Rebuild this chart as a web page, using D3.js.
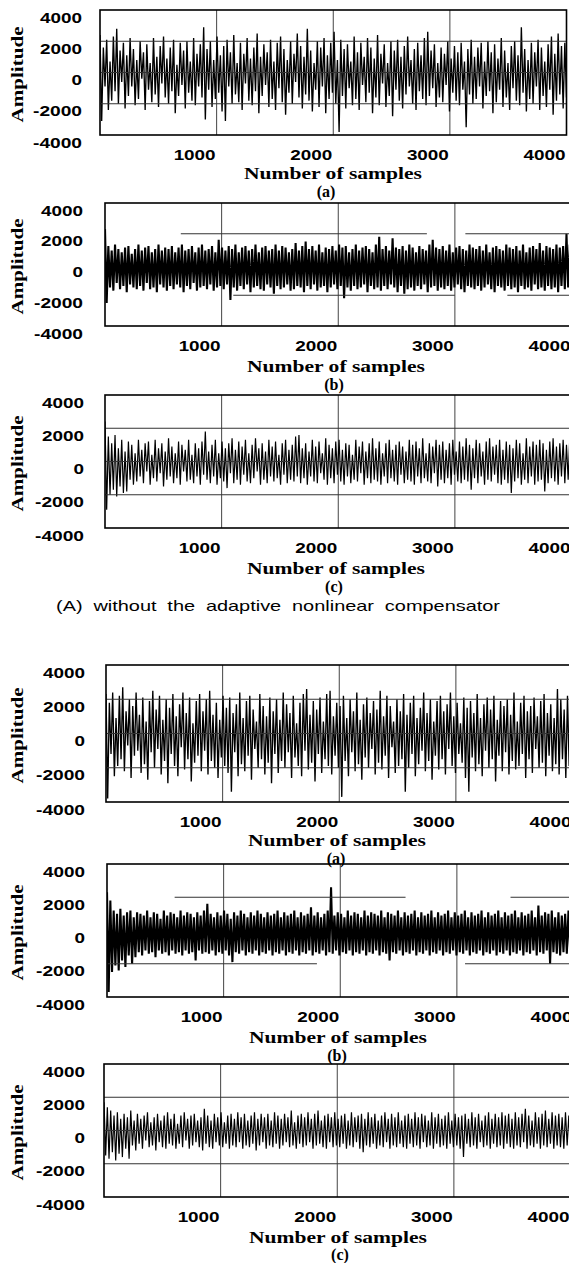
<!DOCTYPE html>
<html>
<head>
<meta charset="utf-8">
<script src="https://cdn.jsdelivr.net/npm/d3@7"></script>
<style>
  body { margin: 0; background: #fff; }
  svg { display: block; }
</style>
</head>
<body>
<svg id="fig" width="569" height="1263"></svg>
<script>
// axis values
var xTicks = [1000, 2000, 3000, 4000]
var yTicks = [4000, 2000, 0, -2000, -4000]
var gridX = [1000, 2000, 3000]
var gridY = [2000, 0, -2000]
var panelTags = ['(a)', '(b)', '(c)', '(a)', '(b)', '(c)']
var caption = '(A) without the adaptive nonlinear compensator'

// signal peaks (alternating up / down strokes, 280 per plot)
// (A) without compensator
var sigA1 = [
    2400, -3100, 1600, -900, 2100, -2400, 700, -1800, 2300, -1200, 2800, -2000, 1400, -600, 1900, -2300, 1100, -1500, 2200, -900,
    1500, -2100, 800, -1700, 2000, -400, 1300, -2400, 1800, -1100, 600, -1900, 2200, -1400, 1000, -2200, 1700, -700, 2300, -1600,
    900, -2000, 1600, -1200, 2100, -2600, 500, -1500, 1900, -800, 1400, -2300, 2000, -1300, 700, -1800, 2200, -2100, 1200, -900,
    1800, -1600, 2900, -3000, 1500, -1100, 2000, -2200, 800, -1700, 2300, -1300, 1100, -2500, 1700, -3100, 2100, -900, 1300, -2000,
    2400, -1400, 600, -1900, 1900, -2400, 1200, -700, 2200, -1800, 900, -2100, 1600, -1200, 2500, -2600, 1000, -1500, 1800, -800,
    1300, -2200, 2100, -1700, 700, -2400, 1900, -1000, 2300, -1900, 1500, -2700, 800, -1300, 2000, -2000, 1200, -600, 2500, -1600,
    1700, -2300, 1000, -1400, 2800, -1800, 1400, -2500, 600, -1100, 2000, -2200, 1600, -900, 2200, -2600, 1100, -1700, 1900, -1300,
    2600, -2000, 800, -3800, 2100, -1500, 1500, -2300, 1800, -1000, 700, -2100, 2300, -1700, 1300, -2400, 1900, -800, 1000, -1900,
    2200, -1300, 1600, -2600, 900, -1600, 2400, -2100, 1200, -700, 1800, -2200, 600, -1500, 2000, -2800, 1400, -1100, 2100, -1800,
    1000, -2300, 1700, -1400, 2300, -900, 800, -2000, 1500, -2400, 1900, -1200, 1100, -1700, 2200, -2100, 2600, -1500, 1400, -1000,
    1800, -2200, 600, -1600, 1600, -1900, 1200, -800, 2000, -2500, 900, -1300, 1700, -1800, 1300, -2100, 1900, -1100, 700, -3500,
    1500, -1400, 2100, -2000, 1000, -1700, 1600, -900, 1900, -2300, 700, -1500, 2000, -1200, 1300, -2600, 1800, -1900, 900, -1100,
    2200, -2200, 1400, -1600, 600, -2400, 1700, -1000, 2000, -1800, 1100, -2100, 2900, -1300, 1500, -2500, 800, -1700, 1900, -2000,
    1300, -900, 2100, -2400, 1600, -1500, 700, -2200, 1800, -1100, 2300, -2700, 1200, -1800, 2500, -1400, 1700, -2300, 1900, -1600]
var sigB1 = [
    2300, -2500, 1200, -1500, 900, -1700, 1300, -1200, 1000, -1600, 800, -1400, 1100, -1800, 1200, -1300, 700, -1500, 1000, -1600,
    1300, -1400, 900, -1700, 1100, -1200, 1200, -1600, 800, -1500, 1000, -1800, 1300, -1300, 900, -1500, 1100, -1700, 1000, -1400,
    1200, -1600, 800, -1300, 1100, -1500, 1300, -1800, 900, -1400, 1000, -1600, 1200, -1200, 800, -1700, 1100, -1500, 1300, -1400,
    900, -1600, 1000, -1300, 1200, -1700, 800, -1500, 1600, -1400, 1100, -1600, 900, -1300, 1200, -2300, 1000, -1500, 1300, -1700,
    800, -1400, 1100, -1600, 1200, -1300, 900, -1800, 1000, -1500, 1300, -1400, 800, -1600, 1100, -1700, 1200, -1300, 900, -1500,
    1000, -1900, 1300, -1400, 900, -1600, 1200, -1500, 1100, -1300, 800, -1700, 1000, -1600, 1400, -1400, 900, -1500, 1200, -1800,
    1500, -1400, 1000, -1600, 1200, -1300, 900, -1700, 1300, -1500, 800, -1400, 1100, -1800, 1000, -1500, 1200, -1300, 900, -1600,
    1300, -1400, 1100, -2200, 1200, -1500, 800, -1700, 1000, -1400, 1300, -1600, 900, -1500, 1100, -1300, 1200, -1800, 1000, -1400,
    800, -1600, 1300, -1500, 1800, -1700, 1000, -1400, 1200, -1600, 900, -1300, 1700, -1500, 1100, -1800, 1000, -1400, 1200, -1900,
    900, -1600, 1300, -1500, 1100, -1700, 800, -1400, 1200, -1600, 1000, -1300, 900, -1800, 1300, -1500, 1600, -1400, 1100, -1700,
    1000, -1500, 1200, -1600, 900, -1400, 1300, -1700, 800, -1500, 1100, -1300, 1200, -1600, 1000, -1800, 900, -1400, 1300, -1500,
    1100, -1600, 1000, -1400, 1200, -1700, 900, -1500, 1300, -1300, 800, -1600, 1100, -1800, 1200, -1400, 1000, -1500, 900, -1700,
    1300, -1400, 1100, -1600, 1000, -1500, 1200, -1800, 900, -1400, 1300, -1600, 800, -1500, 1100, -1700, 1200, -1300, 1000, -1600,
    1400, -1500, 900, -1700, 1200, -1400, 1100, -1600, 1000, -1500, 1300, -1800, 1100, -1400, 1200, -1600, 2000, -1500, 1300, -1600]
var sigC1 = [
    2400, -2900, 1500, -2000, 1100, -1700, 1600, -2100, 800, -1500, 1300, -1900, 600, -1800, 1200, -1100, 1000, -1400, 500, -1200,
    1300, -900, 700, -1300, 1100, -600, 1200, -1400, 400, -1000, 1300, -1200, 800, -700, 1100, -1500, 600, -1100, 1400, -900,
    900, -1300, 500, -1000, 1200, -1400, 1000, -600, 700, -1200, 1300, -1100, 400, -1300, 1100, -900, 800, -1400, 1200, -800,
    1800, -1100, 600, -1300, 1000, -900, 1300, -1400, 500, -1000, 1200, -1200, 800, -1600, 1100, -700, 1400, -1300, 700, -1100,
    1200, -1400, 900, -800, 1300, -1200, 500, -1300, 1000, -1000, 1400, -600, 800, -1400, 1100, -1100, 600, -1300, 1300, -900,
    900, -1200, 1200, -1000, 400, -1400, 1100, -800, 1300, -1300, 700, -1100, 1000, -1200, 1500, -900, 1600, -1300, 800, -1000,
    1100, -1400, 600, -900, 1300, -1200, 900, -1300, 1200, -700, 500, -1100, 1400, -1400, 1000, -1000, 800, -1300, 1200, -800,
    1300, -1200, 700, -1400, 1100, -900, 1000, -1300, 400, -1100, 1300, -1200, 900, -700, 1200, -1400, 600, -1000, 1100, -1300,
    1400, -1100, 800, -1200, 1200, -1400, 500, -900, 1100, -1300, 1300, -1000, 700, -1200, 1000, -1400, 1200, -800, 900, -1300,
    600, -1100, 1300, -1200, 1000, -1400, 1200, -900, 800, -1300, 1400, -1000, 500, -1200, 1100, -1300, 900, -700, 1300, -1500,
    1000, -1100, 1200, -1300, 700, -1000, 1100, -1400, 1300, -800, 600, -1200, 1200, -1300, 900, -1100, 1400, -1200, 1000, -1700,
    800, -1000, 1300, -1300, 1100, -900, 600, -1400, 1200, -1100, 1400, -1200, 900, -800, 1000, -1300, 1300, -1400, 700, -1100,
    1200, -1300, 1000, -1900, 800, -1200, 1300, -1000, 1100, -1400, 500, -1100, 1400, -1300, 900, -900, 1200, -1400, 1000, -1200,
    1300, -1100, 1100, -1800, 700, -1300, 1200, -1000, 1400, -1200, 900, -1400, 1100, -900, 1300, -1300, 1000, -1100, 1500, -1000]

// (B) with compensator
var sigA2 = [
    2300, -3800, 1800, -1200, 2400, -2500, 900, -1900, 2200, -1500, 2700, -2200, 1300, -700, 2000, -2600, 1600, -1300, 2400, -1000,
    1100, -2300, 2100, -1800, 700, -2700, 1900, -1100, 2500, -2000, 1400, -900, 2200, -2400, 800, -1600, 2000, -2900, 1500, -1200,
    2300, -1900, 1000, -2500, 1700, -800, 2400, -2100, 1200, -1500, 2100, -2800, 600, -1700, 1900, -1300, 2300, -2200, 1300, -1000,
    2000, -2400, 2500, -1600, 1100, -2000, 1800, -2600, 800, -1400, 2200, -1900, 1500, -2300, 2100, -3400, 1200, -1100, 1700, -2500,
    2400, -1800, 900, -2200, 1900, -1300, 2200, -2700, 1400, -900, 700, -2000, 2300, -1500, 1600, -2400, 1000, -1700, 2100, -2900,
    1300, -1200, 2000, -2300, 800, -1600, 2400, -2000, 1700, -1100, 1200, -2600, 2200, -1400, 600, -1900, 1800, -2500, 2300, -1000,
    2600, -2100, 1100, -1700, 1900, -2800, 1400, -1200, 2100, -2300, 700, -1500, 2300, -1900, 2500, -2400, 1000, -1300, 1800, -2000,
    1600, -3700, 2200, -1600, 900, -2500, 2000, -1100, 1300, -2200, 2400, -1800, 800, -2700, 1700, -1400, 2100, -2000, 1200, -900,
    1900, -2400, 1400, -1700, 2500, -2100, 1000, -1300, 2200, -2600, 1600, -800, 700, -2300, 2000, -1900, 1300, -1500, 2300, -3400,
    1100, -2000, 1800, -1200, 2200, -2500, 900, -1800, 1500, -1000, 2400, -2200, 1200, -1600, 2000, -2700, 700, -1300, 1900, -2100,
    2200, -1500, 1300, -2400, 1700, -900, 2400, -1900, 1000, -2300, 1800, -1200, 600, -1700, 2100, -2600, 1500, -3400, 1900, -1400,
    1200, -2200, 2300, -1800, 900, -2500, 1700, -1000, 2100, -2000, 1400, -1500, 2200, -2800, 800, -1300, 1900, -2200, 1600, -1100,
    2000, -2400, 1100, -1600, 2400, -2100, 700, -1900, 1800, -1200, 2200, -2600, 1300, -1500, 1600, -2300, 2100, -900, 1000, -2000,
    1900, -1700, 2300, -2500, 1200, -1300, 1700, -2200, 900, -1800, 2600, -2400, 2000, -1500, 1400, -2600, 2200, -1900, 2400, -2100]
var sigB2 = [
    2300, -3700, 1800, -2500, 1200, -2100, 1000, -2400, 1300, -1800, 900, -2200, 1100, -1500, 1200, -2000, 800, -1600, 1100, -1300,
    1000, -1500, 900, -1200, 1200, -1400, 800, -1300, 1100, -1600, 1000, -1200, 700, -1400, 1200, -1300, 900, -1500, 1100, -1200,
    1000, -1400, 800, -1300, 1200, -1500, 900, -1200, 1100, -1400, 1000, -1300, 800, -1800, 1100, -1200, 900, -1400, 1200, -1300,
    1600, -1400, 1000, -1200, 800, -1500, 1100, -1300, 900, -1400, 1200, -1200, 1000, -1500, 700, -1900, 1100, -1300, 900, -1400,
    1200, -1200, 1000, -1500, 800, -1300, 1100, -1400, 900, -1200, 1200, -1500, 1000, -1300, 800, -1400, 1100, -1200, 900, -1500,
    1000, -1300, 1200, -1400, 800, -1200, 1100, -1500, 900, -1300, 1000, -1400, 1200, -1200, 800, -1500, 1100, -1300, 900, -1400,
    1000, -1200, 1400, -1500, 900, -1300, 1100, -1400, 800, -1200, 1000, -1500, 1200, -1300, 2600, -1400, 900, -1200, 1100, -1500,
    1000, -1300, 800, -1400, 1200, -1200, 900, -1500, 1100, -1300, 1000, -1400, 800, -1200, 1200, -1500, 900, -1300, 1100, -1400,
    1000, -1200, 900, -1500, 1200, -1300, 800, -1400, 1100, -1800, 1000, -1300, 900, -1400, 1200, -1200, 800, -1500, 1100, -1300,
    900, -1400, 1000, -1200, 1200, -1500, 800, -1300, 1100, -1400, 900, -1200, 1000, -1500, 1200, -1300, 800, -1400, 1100, -1200,
    900, -1500, 1000, -1300, 1200, -1400, 800, -1200, 1100, -1500, 900, -1300, 1000, -1400, 1200, -1200, 800, -1500, 1100, -1300,
    900, -1400, 1000, -1200, 1200, -1500, 800, -1300, 1100, -1400, 900, -1200, 1000, -1500, 1200, -1300, 800, -1400, 1100, -1200,
    900, -1500, 1000, -1300, 1200, -1400, 800, -1200, 1100, -1500, 900, -1300, 1000, -1400, 1200, -1200, 800, -1500, 1500, -1300,
    900, -1400, 1100, -1200, 1000, -2000, 1200, -1300, 800, -1400, 1100, -1500, 900, -1300, 1000, -1400, 1200, -1200, 900, -1400]
var sigC2 = [
    1700, -1500, 1400, -1700, 1200, -1300, 900, -1800, 1100, -1400, 700, -1600, 1000, -1100, 800, -1700, 1200, -900, 600, -1200,
    1000, -800, 700, -1100, 900, -600, 1100, -1000, 500, -900, 800, -1200, 1000, -700, 600, -1000, 900, -1100, 1100, -800,
    700, -900, 1000, -1100, 400, -800, 900, -1000, 1100, -600, 700, -1100, 900, -900, 1000, -700, 600, -1000, 800, -1200,
    1300, -800, 900, -1000, 600, -1100, 1000, -700, 800, -900, 1100, -1000, 500, -800, 900, -1100, 1000, -900, 700, -1000,
    1100, -700, 800, -1100, 1000, -900, 600, -1000, 900, -800, 1100, -1200, 700, -900, 1000, -700, 800, -1100, 1000, -900,
    600, -1000, 1100, -800, 900, -1100, 700, -900, 1000, -700, 800, -1000, 1200, -900, 500, -1100, 900, -800, 1000, -1000,
    800, -900, 1100, -700, 700, -1100, 1000, -900, 1200, -800, 600, -1000, 900, -1100, 1000, -700, 800, -1000, 1100, -900,
    700, -1000, 900, -800, 1000, -1100, 600, -900, 1100, -1000, 800, -700, 900, -1100, 1000, -1300, 700, -900, 1100, -1000,
    800, -800, 1000, -1100, 600, -900, 900, -1000, 1100, -700, 700, -1100, 1000, -900, 800, -1000, 1100, -800, 600, -1000,
    900, -1100, 1000, -800, 700, -1000, 1100, -900, 800, -1100, 1000, -700, 900, -1000, 600, -900, 1100, -1100, 800, -800,
    1000, -1000, 700, -900, 900, -1100, 1100, -800, 600, -1000, 1000, -900, 800, -1100, 900, -1600, 1000, -800, 700, -1000,
    1100, -900, 800, -1100, 1000, -700, 600, -1000, 900, -900, 1100, -1100, 700, -800, 1000, -1000, 800, -900, 1100, -1100,
    900, -800, 1000, -1000, 700, -1100, 1100, -900, 800, -1000, 1000, -700, 1300, -1100, 900, -900, 600, -1000, 1100, -800,
    800, -1100, 1000, -900, 1200, -1000, 700, -800, 1100, -1100, 900, -900, 1000, -1000, 800, -1100, 1100, -900, 900, -1000]

// pieces of the +-2000 grid lines that show in the (b) plots, in samples
var gridB1Upper = [[650, 2760], [3090, 4000]]
var gridB1Lower = [[1100, 3000], [3450, 4000]]
var gridB2Upper = [[580, 2560], [3460, 4000]]
var gridB2Lower = [[0, 1800], [3070, 4000]]

var signals = [sigA1, sigB1, sigC1, sigA2, sigB2, sigC2]
var brokenGrid = [null, [gridB1Upper, gridB1Lower], null, null, [gridB2Upper, gridB2Lower], null]

// pixel placement of each panel
var layout = [
    { left: 100, top: 10, bottom: 135, tickX: 82, titleDy: 44, tagDy: 62, titleX: 333, tagX: 326, lw: 1.35 },
    { left: 105, top: 203, bottom: 326, tickX: 83, titleDy: 46, tagDy: 64, titleX: 336, tagX: 334, lw: 2.1 },
    { left: 105, top: 395, bottom: 528, tickX: 84, titleDy: 46, tagDy: 64, titleX: 336, tagX: 334, lw: 1.2 },
    { left: 106, top: 665, bottom: 802, tickX: 85, titleDy: 44, tagDy: 62, titleX: 337, tagX: 336, lw: 1.35 },
    { left: 107, top: 864, bottom: 997, tickX: 85, titleDy: 46, tagDy: 64, titleX: 338, tagX: 337, lw: 2.1 },
    { left: 104, top: 1064, bottom: 1197, tickX: 85, titleDy: 46, tagDy: 63, titleX: 338, tagX: 340, lw: 1.2 }
]

var svg = d3.select('#fig')
var numFont = '"Liberation Sans", Arial, sans-serif'
var serifFont = '"Liberation Serif", "Times New Roman", serif'

function labelWidth(s) {
    // the scanned digits are wide
    return s.replace('-', '').length * 10.5 + (s.indexOf('-') >= 0 ? 7 : 0)
}

layout.forEach(function (p, k) {
    var x = d3.scaleLinear().domain([0, 4000]).range([p.left, p.left + 466.5])
    var y = d3.scaleLinear().domain([-4000, 4000]).range([p.bottom, p.top])
    var right = x(4000)
    var band = brokenGrid[k] != null
    var g = svg.append('g')

    g.append('clipPath').attr('id', 'clip' + k)
        .append('rect')
        .attr('x', p.left).attr('y', p.top)
        .attr('width', right - p.left).attr('height', p.bottom - p.top)

    // vertical grid
    g.selectAll('.gx').data(gridX).enter().append('line')
        .attr('x1', d => x(d)).attr('x2', d => x(d))
        .attr('y1', p.top).attr('y2', p.bottom)
        .attr('stroke', '#444').attr('stroke-width', 1)

    // the signal
    var sig = signals[k]
    var step = 4000 / (sig.length - 1)
    var line = d3.line()
        .x((d, i) => x(i * step))
        .y(d => y(d))
    g.append('path')
        .datum(sig)
        .attr('clip-path', 'url(#clip' + k + ')')
        .attr('d', line)
        .attr('fill', 'none')
        .attr('stroke', '#000')
        .attr('stroke-width', p.lw)
        .attr('stroke-linejoin', 'bevel')

    // horizontal grid, on top of the thin traces, partly missing in the (b) plots
    if (band) {
        var segs = []
        brokenGrid[k][0].forEach(s => segs.push({ v: 2000, a: s[0], b: s[1] }))
        brokenGrid[k][1].forEach(s => segs.push({ v: -2000, a: s[0], b: s[1] }))
        g.selectAll('.gy').data(segs).enter().append('line')
            .attr('x1', d => x(d.a)).attr('x2', d => x(d.b))
            .attr('y1', d => y(d.v)).attr('y2', d => y(d.v))
            .attr('stroke', '#333').attr('stroke-width', 1)
    } else {
        g.selectAll('.gy').data(gridY).enter().append('line')
            .attr('x1', p.left).attr('x2', right)
            .attr('y1', d => y(d)).attr('y2', d => y(d))
            .attr('stroke', '#333').attr('stroke-width', 1)
    }

    // frame
    g.append('rect')
        .attr('x', p.left).attr('y', p.top)
        .attr('width', right - p.left).attr('height', p.bottom - p.top)
        .attr('fill', 'none').attr('stroke', '#000').attr('stroke-width', 1.6)

    // y tick labels (sit a little below their grid lines, as in the scan)
    g.selectAll('.ty').data(yTicks).enter().append('text')
        .attr('x', p.tickX)
        .attr('y', d => y(d) + 12.5)
        .attr('text-anchor', 'end')
        .attr('font-family', numFont).attr('font-weight', 'bold').attr('font-size', 14)
        .attr('textLength', d => labelWidth(String(d)))
        .attr('lengthAdjust', 'spacingAndGlyphs')
        .text(d => d)

    // x tick labels
    g.selectAll('.tx').data(xTicks).enter().append('text')
        .attr('x', d => x(d) - 22)
        .attr('y', p.bottom + 25)
        .attr('text-anchor', 'middle')
        .attr('font-family', numFont).attr('font-weight', 'bold').attr('font-size', 14)
        .attr('textLength', d => labelWidth(String(d)))
        .attr('lengthAdjust', 'spacingAndGlyphs')
        .text(d => d)

    // axis titles
    g.append('text')
        .attr('transform', 'translate(23,' + ((p.top + p.bottom) / 2 + 2) + ') rotate(-90)')
        .attr('text-anchor', 'middle')
        .attr('font-family', serifFont).attr('font-weight', 'bold').attr('font-size', 16)
        .attr('textLength', 96).attr('lengthAdjust', 'spacingAndGlyphs')
        .text('Amplitude')

    g.append('text')
        .attr('x', p.titleX).attr('y', p.bottom + p.titleDy)
        .attr('text-anchor', 'middle')
        .attr('font-family', serifFont).attr('font-weight', 'bold').attr('font-size', 17)
        .attr('textLength', 178).attr('lengthAdjust', 'spacingAndGlyphs')
        .text('Number of samples')

    g.append('text')
        .attr('x', p.tagX).attr('y', p.bottom + p.tagDy)
        .attr('text-anchor', 'middle')
        .attr('font-family', serifFont).attr('font-weight', 'bold').attr('font-size', 16)
        .text(panelTags[k])
})

svg.append('text')
    .attr('x', 278).attr('y', 611)
    .attr('text-anchor', 'middle')
    .attr('font-family', numFont).attr('font-size', 15)
    .attr('word-spacing', 4)
    .attr('textLength', 444).attr('lengthAdjust', 'spacingAndGlyphs')
    .text(caption)
</script>
</body>
</html>
